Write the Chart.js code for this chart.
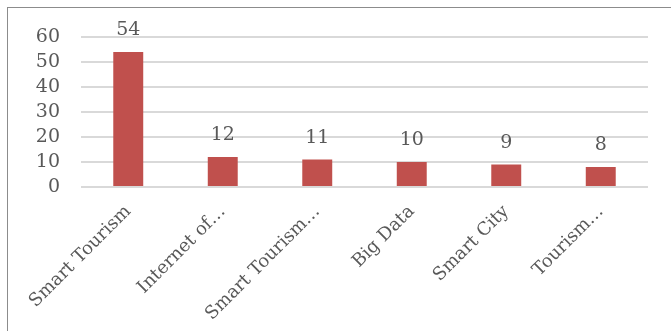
<!DOCTYPE html>
<html>
<head>
<meta charset="utf-8">
<script src="https://cdn.jsdelivr.net/npm/chart.js@4"></script>
<style>
    html, body { margin: 0; padding: 0; background: #fff; overflow: hidden; }
    #wrap { position: relative; width: 671px; height: 331px; }
    #frame { position: absolute; left: 7px; top: 7px; width: 700px; height: 400px; border-top: 1.5px solid #8c8c8c; border-left: 1.5px solid #8c8c8c; }
    canvas { position: absolute; left: 0; top: 0; }
</style>
</head>
<body>
<div id="wrap">
    <div id="frame"></div>
    <canvas id="chart" width="671" height="331"></canvas>
</div>
<script>
const CATEGORIES = ['Smart Tourism', 'Internet of…', 'Smart Tourism…', 'Big Data', 'Smart City', 'Tourism…'];
const COUNTS = [54, 12, 11, 10, 9, 8];
const Y_MAX = 60;
const Y_STEP = 10;

const FONT = { family: '"DejaVu Serif", serif', size: 19 };
const X_FONT = { family: '"DejaVu Serif", serif', size: 18 };
const TEXT_COLOR = '#595959';

// value labels above each bar
const barLabels = {
    id: 'barLabels',
    afterDatasetsDraw(chart) {
        const ctx = chart.ctx;
        const meta = chart.getDatasetMeta(0);
        ctx.save();
        ctx.font = `${FONT.size}px ${FONT.family}`;
        ctx.fillStyle = TEXT_COLOR;
        ctx.textAlign = 'center';
        ctx.textBaseline = 'alphabetic';
        meta.data.forEach((bar, i) => {
            ctx.fillText(String(COUNTS[i]), bar.x, bar.y - 17);
        });
        ctx.restore();
    }
};

Chart.defaults.animation = false;

new Chart(document.getElementById('chart'), {
    type: 'bar',
    data: {
        labels: CATEGORIES,
        datasets: [{
            data: COUNTS,
            backgroundColor: '#c0504d',
            borderWidth: 0,
            categoryPercentage: 1,
            barPercentage: 0.317
        }]
    },
    options: {
        responsive: false,
        maintainAspectRatio: false,
        layout: { padding: { top: 37, right: 23, left: 0, bottom: 0 } },
        plugins: { legend: { display: false }, tooltip: { enabled: false } },
        scales: {
            x: {
                grid: { display: false },
                border: { display: false },
                ticks: {
                    color: TEXT_COLOR,
                    font: X_FONT,
                    minRotation: 45,
                    maxRotation: 45,
                    autoSkip: false,
                    padding: 6
                },
                afterFit: (s) => { s.height = 144; }
            },
            y: {
                min: 0,
                max: Y_MAX,
                grid: { color: '#d9d9d9', lineWidth: 2, drawTicks: false },
                border: { display: false },
                ticks: { color: TEXT_COLOR, font: FONT, padding: 21, stepSize: Y_STEP, autoSkip: false },
                afterFit: (s) => { s.width = 81; }
            }
        }
    },
    plugins: [barLabels]
});
</script>
</body>
</html>
